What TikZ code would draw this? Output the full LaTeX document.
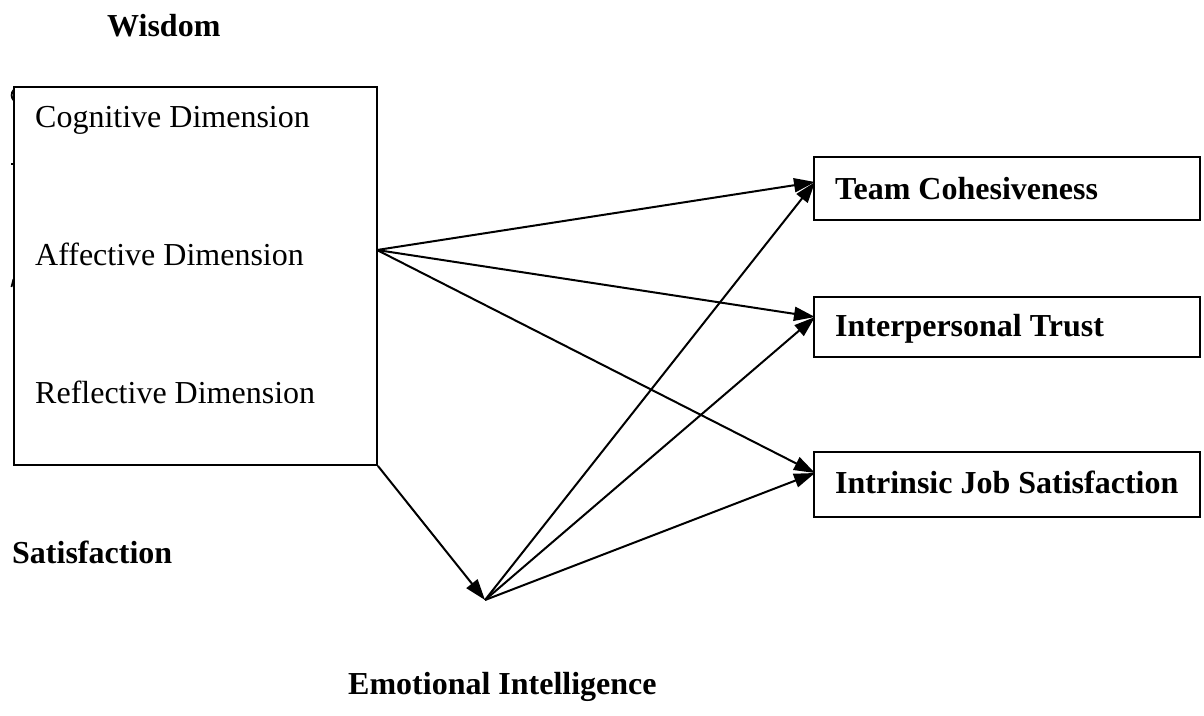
\documentclass[tikz,border=0pt]{standalone}
\usepackage{fontspec}
\setmainfont{Liberation Serif}
\usetikzlibrary{arrows.meta}
\tikzset{
  frame/.style={draw, line width=1.8pt, inner sep=0pt},
  lbl/.style={anchor=base west, inner sep=0pt, font=\fontsize{32}{38}\selectfont},
  blbl/.style={lbl, font=\fontsize{32}{38}\selectfont\bfseries},
  link/.style={line width=2pt, -{Triangle[length=21pt, width=14pt]}},
}
\begin{document}
\begin{tikzpicture}[x=1pt, y=-1pt]
\useasboundingbox (0,0) rectangle (1204,715);

% dimensions box
\node[frame, minimum width=363pt, minimum height=378pt] (dims) at (195.5,276) {};
\node[lbl] (cog) at (35,127) {Cognitive Dimension};
\node[lbl] (aff) at (35,265) {Affective Dimension};
\node[lbl] (ref) at (35,403) {Reflective Dimension};

% bits of lettering showing at the box's left edge
\draw[line width=1.8pt] (13.5,90) arc[start angle=140, end angle=220, radius=8pt];
\draw[line width=1.2pt] (11,164) -- (14,164);
\draw[line width=1.8pt] (13.5,279) -- (11.5,287);

% outcome boxes
\node[frame, minimum width=386pt, minimum height=63pt] (team) at (1007,188.5) {};
\node[frame, minimum width=386pt, minimum height=60pt] (trust) at (1007,327) {};
\node[frame, minimum width=386pt, minimum height=65pt] (job) at (1007,484.5) {};
\node[blbl] (teamtxt) at (835,199) {Team Cohesiveness};
\node[blbl] (trusttxt) at (835,336) {Interpersonal Trust};
\node[blbl] (jobtxt) at (835,493) {Intrinsic Job Satisfaction};

% headings
\node[blbl] (wis) at (107,36) {Wisdom};
\node[blbl] (sat) at (12,563) {Satisfaction};
\node[blbl] (emo) at (348,694) {Emotional Intelligence};

% connector end points
\coordinate (src) at (377,250);
\coordinate (hub) at (485,600);
\coordinate (tin) at (815,182);
\coordinate (rin) at (815,317);
\coordinate (jin) at (815,473);

\draw[link] (src) -- (tin);
\draw[link] (src) -- (rin);
\draw[link] (src) -- (jin);
\draw[link] (dims.south east) -- (hub);
\draw[link] (hub) -- (tin);
\draw[link] (hub) -- (rin);
\draw[link] (hub) -- (jin);
\end{tikzpicture}
\end{document}
